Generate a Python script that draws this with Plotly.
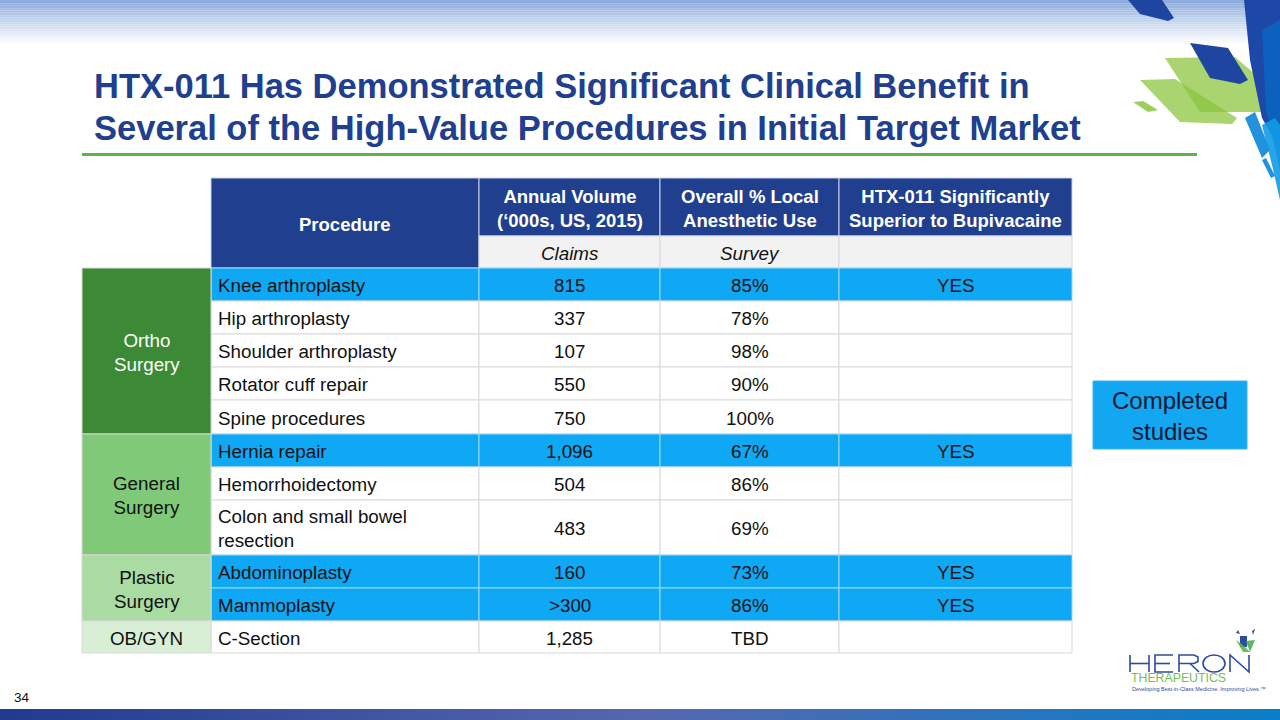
import plotly.graph_objects as go

# ---------------- data ----------------
title_lines = ["HTX-011 Has Demonstrated Significant Clinical Benefit in",
               "Several of the High-Value Procedures in Initial Target Market"]
header_cols = ["Procedure", "Annual Volume<br>(‘000s, US, 2015)",
               "Overall % Local<br>Anesthetic Use", "HTX-011 Significantly<br>Superior to Bupivacaine"]
sub_header = ["", "Claims", "Survey", ""]
groups = ["Ortho<br>Surgery", "General<br>Surgery", "Plastic<br>Surgery", "OB/GYN"]
group_sizes = [5, 3, 2, 1]
procedures = ["Knee arthroplasty", "Hip arthroplasty", "Shoulder arthroplasty",
              "Rotator cuff repair", "Spine procedures", "Hernia repair",
              "Hemorrhoidectomy", "Colon and small bowel<br>resection",
              "Abdominoplasty", "Mammoplasty", "C-Section"]
annual_volume = ["815", "337", "107", "550", "750", "1,096", "504", "483", "160", ">300", "1,285"]
local_use = ["85%", "78%", "98%", "90%", "100%", "67%", "86%", "69%", "73%", "86%", "TBD"]
superior = ["YES", "", "", "", "", "YES", "", "", "YES", "YES", ""]
callout_text = "Completed<br>studies"
page_number = "34"
logo_sub = "THERAPEUTICS"
logo_tag = "Developing Best-in-Class Medicine. Improving Lives.™"

# ---------------- layout / style ----------------
FONT = "Arial, Liberation Sans, sans-serif"
NAVY = "#203F8E"
BRIGHT = "#0FA8F5"
GRID = "#D9D9D9"
group_fill = ["#3D8A36", "#7FC978", "#A9DBA2", "#D9EFD5"]
group_font = ["white", "#111111", "#111111", "#111111"]
BODY_SIZE = 18.8
HEAD_SIZE = 18.5

col_edges = [82, 211, 479, 660, 839, 1072]
header_top, header_mid, body_top = 178, 236, 268
row_heights = [33, 33, 33, 33, 34, 33, 33, 55, 33, 33, 32]

shapes = []
annotations = []


def rect(x0, y0, x1, y1, fill, line=None, lw=1, layer="below", opacity=1):
    shapes.append(dict(type="rect", xref="x", yref="y", x0=x0, y0=y0, x1=x1, y1=y1,
                       fillcolor=fill, opacity=opacity, layer=layer,
                       line=dict(color=line if line else fill, width=lw if line else 0)))


def text(x, y, s, size=BODY_SIZE, color="#111111", xanchor="center", bold=False, italic=False):
    if bold:
        s = "<b>" + s.replace("<br>", "</b><br><b>") + "</b>"
    if italic:
        s = "<i>" + s.replace("<br>", "</i><br><i>") + "</i>"
    annotations.append(dict(x=x, y=y, xref="x", yref="y", text=s, showarrow=False,
                            xanchor=xanchor, yanchor="middle", align=xanchor,
                            font=dict(family=FONT, size=size, color=color)))


def hexmix(c1, c2, t):
    a = [int(c1[i:i + 2], 16) for i in (1, 3, 5)]
    b = [int(c2[i:i + 2], 16) for i in (1, 3, 5)]
    return "#" + "".join(f"{round(a[k] + (b[k] - a[k]) * t):02X}" for k in range(3))


def path(pts, fill=None, opacity=1, stroke=None, sw=0, closed=True):
    d = "M " + " L ".join(f"{x},{y}" for x, y in pts) + (" Z" if closed else "")
    shapes.append(dict(type="path", xref="x", yref="y", path=d,
                       fillcolor=fill if fill else "rgba(0,0,0,0)",
                       opacity=opacity, line=dict(width=sw, color=stroke if stroke else "rgba(0,0,0,0)"),
                       layer="below"))


# top gradient band
n = 26
for i in range(n):
    y0 = i * 1.75
    rect(0, y0, 1280, y0 + 1.85, hexmix("#7FA2D8", "#FFFFFF", (i / (n - 1)) ** 0.8))
rect(0, 0, 1280, 2, "#8FAEDF")

# bottom gradient bar
m = 80
for i in range(m):
    t = i / (m - 1)
    if t < 0.5:
        c = hexmix("#213B8F", "#5767AE", t / 0.5)
    else:
        c = hexmix("#5767AE", "#0A7DC8", (t - 0.5) / 0.5)
    rect(i * 16, 709, i * 16 + 16.5, 720, c)

# decorative shapes top-right
path([(1165, 58), (1235, 57), (1276, 92), (1273, 112), (1200, 112)], "#8CC63F", 0.75)
path([(1140, 80), (1175, 79), (1237, 118), (1232, 124), (1180, 122)], "#8CC63F", 0.75)
path([(1133, 102), (1143, 101), (1158, 110), (1148, 112)], "#8CC63F", 0.85)
path([(1128, 0), (1162, 0), (1174, 18), (1168, 21), (1140, 14)], "#1E45A0")
path([(1190, 43), (1228, 48), (1248, 80), (1240, 84), (1210, 78)], "#1E45A0")
path([(1244, 0), (1280, 0), (1280, 150), (1262, 118), (1250, 60)], "#1E48A8")
path([(1262, 30), (1280, 20), (1280, 170), (1266, 110)], "#0A63C0", 0.9)
path([(1245, 118), (1255, 112), (1270, 150), (1262, 158)], "#0A86D8", 0.9)
path([(1262, 125), (1275, 118), (1280, 125), (1280, 200), (1272, 165)], "#0F9BE5", 0.9)
path([(1262, 160), (1266, 158), (1275, 176), (1271, 178)], "#0A86D8", 0.9)

# title
text(92, 86, title_lines[0], size=34.5, color=NAVY, xanchor="left", bold=True)
text(92, 128, title_lines[1], size=34.5, color=NAVY, xanchor="left", bold=True)
shapes.append(dict(type="line", xref="x", yref="y", x0=82, x1=1197, y0=154.5, y1=154.5,
                   line=dict(color="#5BB548", width=3)))

# header
rect(col_edges[1], header_top, col_edges[2], body_top, NAVY, line="#C9D2E8")
text((col_edges[1] + col_edges[2]) / 2, (header_top + body_top) / 2 + 1, header_cols[0],
     size=HEAD_SIZE, color="white", bold=True)
for j in range(1, 4):
    x0, x1 = col_edges[j + 1], col_edges[j + 2]
    rect(x0, header_top, x1, header_mid, NAVY, line="#C9D2E8")
    rect(x0, header_mid, x1, body_top, "#F2F2F2", line=GRID)
    text((x0 + x1) / 2, (header_top + header_mid) / 2 + 1, header_cols[j],
         size=HEAD_SIZE, color="white", bold=True)
    if sub_header[j]:
        text((x0 + x1) / 2, (header_mid + body_top) / 2 + 1, sub_header[j], color="#111111", italic=True)

# body rows
y = body_top
row_tops = []
for i, proc in enumerate(procedures):
    h = row_heights[i]
    row_tops.append(y)
    highlight = superior[i] == "YES"
    fill = BRIGHT if highlight else "white"
    cells = [proc, annual_volume[i], local_use[i], superior[i]]
    for j in range(4):
        x0, x1 = col_edges[j + 1], col_edges[j + 2]
        rect(x0, y, x1, y + h, fill, line="#9FD9F7" if highlight else GRID)
        if j == 0:
            text(x0 + 5, y + h / 2 + 1, cells[j], xanchor="left")
        elif cells[j]:
            text((x0 + x1) / 2, y + h / 2 + 1, cells[j])
    y += h
row_tops.append(y)

# group column
k = 0
for g, sz in enumerate(group_sizes):
    y0, y1 = row_tops[k], row_tops[k + sz]
    rect(col_edges[0], y0, col_edges[1], y1, group_fill[g], line=GRID)
    text((col_edges[0] + col_edges[1]) / 2, (y0 + y1) / 2 + 1, groups[g], color=group_font[g])
    k += sz

# callout box
rect(1093, 381, 1247, 449, "#13A7F2", line="#3DB5F2")
text(1170, 416, callout_text, size=24, color="#101830")

# page number
text(12, 697, page_number, size=13.5, color="#111111", xanchor="left")

# logo: outlined HERON letters as strokes
LB = "#2E4C9E"
top, bot, mid = 655, 672, 663.5
path([(1130, top), (1130, bot)], stroke=LB, sw=1.6, closed=False)
path([(1149, top), (1149, bot)], stroke=LB, sw=1.6, closed=False)
path([(1130, mid), (1149, mid)], stroke=LB, sw=1.6, closed=False)
path([(1173, top), (1155, top), (1155, bot), (1173, bot)], stroke=LB, sw=1.6, closed=False)
path([(1155, mid), (1170, mid)], stroke=LB, sw=1.6, closed=False)
path([(1179, bot), (1179, top), (1194, top), (1198, 657), (1198, 661.5), (1194, mid), (1179, mid)],
     stroke=LB, sw=1.6, closed=False)
path([(1190, mid), (1199, bot)], stroke=LB, sw=1.6, closed=False)
shapes.append(dict(type="circle", xref="x", yref="y", x0=1203, x1=1225, y0=top, y1=bot,
                   line=dict(color=LB, width=1.6), fillcolor="rgba(0,0,0,0)", layer="below"))
path([(1230, bot), (1230, top), (1249, bot), (1249, top)], stroke=LB, sw=1.6, closed=False)
text(1129, 677.5, logo_sub, size=12.3, color="#76BE50", xanchor="left")
text(1130, 688.5, logo_tag, size=5.5, color=LB, xanchor="left")
path([(1240, 636), (1247, 636), (1247, 647), (1240, 647)], LB)
path([(1236, 640), (1243, 645), (1250, 652), (1243, 652)], "#5BB548", 0.9)
path([(1246, 641), (1255, 640), (1250, 652)], "#4FAF50", 0.9)
path([(1236, 633), (1238, 630), (1240, 634)], LB)
path([(1252, 631), (1255, 629), (1253, 635)], LB)

fig = go.Figure()
fig.add_trace(go.Scatter(x=[0, 1280], y=[0, 720], mode="markers", marker=dict(opacity=0),
                         hoverinfo="skip", showlegend=False))
fig.update_layout(
    width=1280, height=720, margin=dict(l=0, r=0, t=0, b=0),
    paper_bgcolor="white", plot_bgcolor="white",
    xaxis=dict(range=[0, 1280], visible=False, fixedrange=True),
    yaxis=dict(range=[720, 0], visible=False, fixedrange=True),
    shapes=shapes, annotations=annotations, showlegend=False,
)
fig.write_html("out.html", config={"displayModeBar": False},
               post_script="document.body.style.margin='0';document.body.style.overflow='hidden';")
